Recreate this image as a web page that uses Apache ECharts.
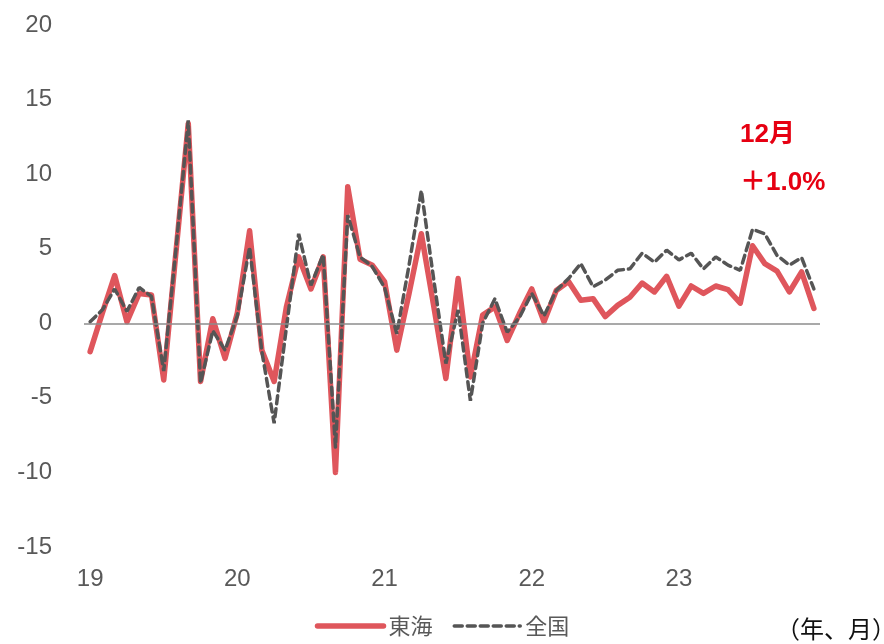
<!DOCTYPE html>
<html>
<head>
<meta charset="utf-8">
<script src="https://cdn.jsdelivr.net/npm/echarts@6/dist/echarts.min.js"></script>
<style>
  html, body { margin: 0; padding: 0; background: #fff; }
  #chart { width: 884px; height: 644px; }
</style>
</head>
<body>
<div id="chart"></div>
<script>
// 年ラベル（各年の1月に表示）
const years = ['19', '20', '21', '22', '23'];
const monthsPerYear = 12;

// 東海（前年同月比, %）2019年1月〜2023年12月
const tokai = [
  -1.9, 0.7, 3.2, 0.1, 2.0, 1.9, -3.8, 4.8, 13.4, -3.9, 0.3, -2.35,
  0.7, 6.2, -1.8, -3.9, 1.1, 4.45, 2.3, 4.45, -10.0, 9.15, 4.3, 3.9,
  2.8, -1.8, 2.0, 6.0, 1.2, -3.7, 3.0, -3.6, 0.55, 1.1, -1.15, 0.65,
  2.3, 0.1, 2.2, 2.8, 1.55, 1.65, 0.45, 1.2, 1.75, 2.7, 2.1, 3.15,
  1.15, 2.5, 2.0, 2.5, 2.25, 1.35, 5.2, 4.0, 3.5, 2.1, 3.45, 1.0
];

// 全国（前年同月比, %）
const zenkoku = [
  0.1, 0.9, 2.3, 0.8, 2.4, 1.8, -3.2, 5.0, 13.6, -4.0, -0.5, -1.8,
  0.5, 5.1, -1.9, -6.7, -0.3, 6.0, 2.55, 4.6, -8.3, 7.25, 4.45, 3.8,
  2.4, -0.7, 3.9, 8.9, 3.0, -2.7, 0.9, -5.2, 0.0, 1.65, -0.6, 0.4,
  2.0, 0.5, 2.2, 3.0, 4.0, 2.45, 2.9, 3.55, 3.65, 4.7, 4.1, 4.9,
  4.25, 4.7, 3.65, 4.45, 3.9, 3.55, 6.3, 6.0, 4.55, 3.9, 4.4, 2.3
];

// 最新月の注記
const noteMonth = '12月';
const noteValue = '＋1.0%';

// 月次カテゴリ（yy/m）
const categories = [];
years.forEach(y => {
  for (let m = 1; m <= monthsPerYear; m++) categories.push(y + '/' + m);
});

const FONT = '"Liberation Sans", Arial, "Noto Sans CJK JP", sans-serif';
const LABEL_COLOR = '#595959';
const RED = '#df565c';
const GRAY = '#555555';

const chart = echarts.init(document.getElementById('chart'));
chart.setOption({
  animation: false,
  textStyle: { fontFamily: FONT },
  grid: { left: 84, right: 64, top: 25, bottom: 97 },
  xAxis: {
    type: 'category',
    data: categories,
    boundaryGap: true,
    axisLine: { show: false },
    axisTick: { show: false },
    splitLine: { show: false },
    axisLabel: {
      interval: i => i % monthsPerYear === 0,
      formatter: v => v.split('/')[0],
      color: LABEL_COLOR,
      fontSize: 24,
      margin: 20
    }
  },
  yAxis: {
    type: 'value',
    min: -15,
    max: 20,
    interval: 5,
    axisLine: { show: false },
    axisTick: { show: false },
    splitLine: { show: false },
    axisLabel: { color: LABEL_COLOR, fontSize: 24, margin: 32 }
  },
  legend: {
    bottom: 2,
    left: 'center',
    itemWidth: 66,
    itemHeight: 14,
    itemGap: 20,
    itemStyle: { opacity: 0 },
    textStyle: { color: LABEL_COLOR, fontSize: 22, fontFamily: '"Noto Sans CJK JP", sans-serif' },
    data: [
      { name: '東海', lineStyle: { color: RED, width: 5.5, cap: 'round' } },
      { name: '全国', lineStyle: { color: GRAY, width: 3.5, type: [8, 5] } }
    ]
  },
  series: [
    {
      name: '東海',
      type: 'line',
      data: tokai,
      symbol: 'none',
      lineStyle: { color: RED, width: 5.5, cap: 'round', join: 'round' },
      itemStyle: { color: RED },
      markLine: {
        silent: true,
        symbol: 'none',
        label: { show: false },
        lineStyle: { color: '#8c8c8c', width: 1.5, type: 'solid' },
        data: [{ yAxis: 0 }]
      },
      z: 2
    },
    {
      name: '全国',
      type: 'line',
      data: zenkoku,
      symbol: 'none',
      lineStyle: { color: GRAY, width: 3.5, type: [8, 5], cap: 'round' },
      itemStyle: { color: GRAY },
      z: 3
    }
  ],
  graphic: [
    {
      type: 'text',
      left: 740,
      top: 122,
      style: { text: noteMonth, fill: '#e60012', font: 'bold 26px ' + FONT }
    },
    {
      type: 'text',
      left: 740,
      top: 170,
      style: { text: noteValue, fill: '#e60012', font: 'bold 26px ' + FONT }
    },
    {
      type: 'text',
      left: 776,
      top: 617,
      style: { text: '（年、月）', fill: '#111', font: '24px "Noto Sans CJK JP", sans-serif' }
    }
  ]
});
</script>
</body>
</html>
